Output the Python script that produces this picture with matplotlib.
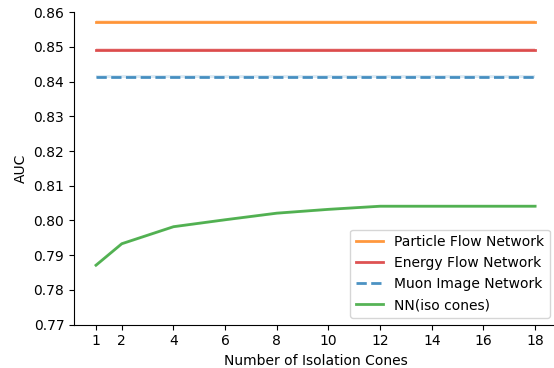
import matplotlib
matplotlib.use("Agg")
import matplotlib.pyplot as plt
import numpy as np

cones = [1, 2, 4, 6, 8, 10, 12, 14, 16, 18]
nn_auc = [0.7871, 0.7933, 0.7982, 0.8002, 0.8021, 0.8032, 0.8041, 0.8041, 0.8041, 0.8041]
pfn_auc = 0.8573
efn_auc = 0.8492
muon_auc = 0.8414
xticks = [1, 2, 4, 6, 8, 10, 12, 14, 16, 18]

fig = plt.figure(figsize=(5.54, 3.68), dpi=100)
ax = fig.add_axes([0.1336, 0.118, 0.872, 0.849])

x = np.array(cones)
band = 0.0004
for val, col, ls, lab in [(pfn_auc, "tab:orange", "-", "Particle Flow Network"),
                          (efn_auc, "tab:red", "-", "Energy Flow Network"),
                          (muon_auc, "tab:blue", "--", "Muon Image Network")]:
    y = np.full(len(x), val)
    ax.plot(x, y, color=col, ls=ls, lw=2, alpha=0.8, label=lab)
    ax.fill_between(x, y - band, y + band, color=col, alpha=0.15, lw=0)

nn = np.array(nn_auc)
ax.plot(x, nn, color="tab:green", lw=2, alpha=0.8, label="NN(iso cones)")
ax.fill_between(x, nn - 0.0003, nn + 0.0003, color="tab:green", alpha=0.15, lw=0)

ax.set_xlim(0.15, 18.85)
ax.set_ylim(0.77, 0.86)
ax.set_xticks(xticks)
ax.set_yticks(np.arange(0.77, 0.8601, 0.01))
ax.yaxis.set_major_formatter(matplotlib.ticker.FormatStrFormatter("%.2f"))
ax.spines["top"].set_visible(False)
ax.spines["right"].set_visible(False)
ax.set_xlabel("Number of Isolation Cones")
ax.set_ylabel("AUC")
ax.legend(loc="lower right")

fig.savefig("out.png", dpi=100)
